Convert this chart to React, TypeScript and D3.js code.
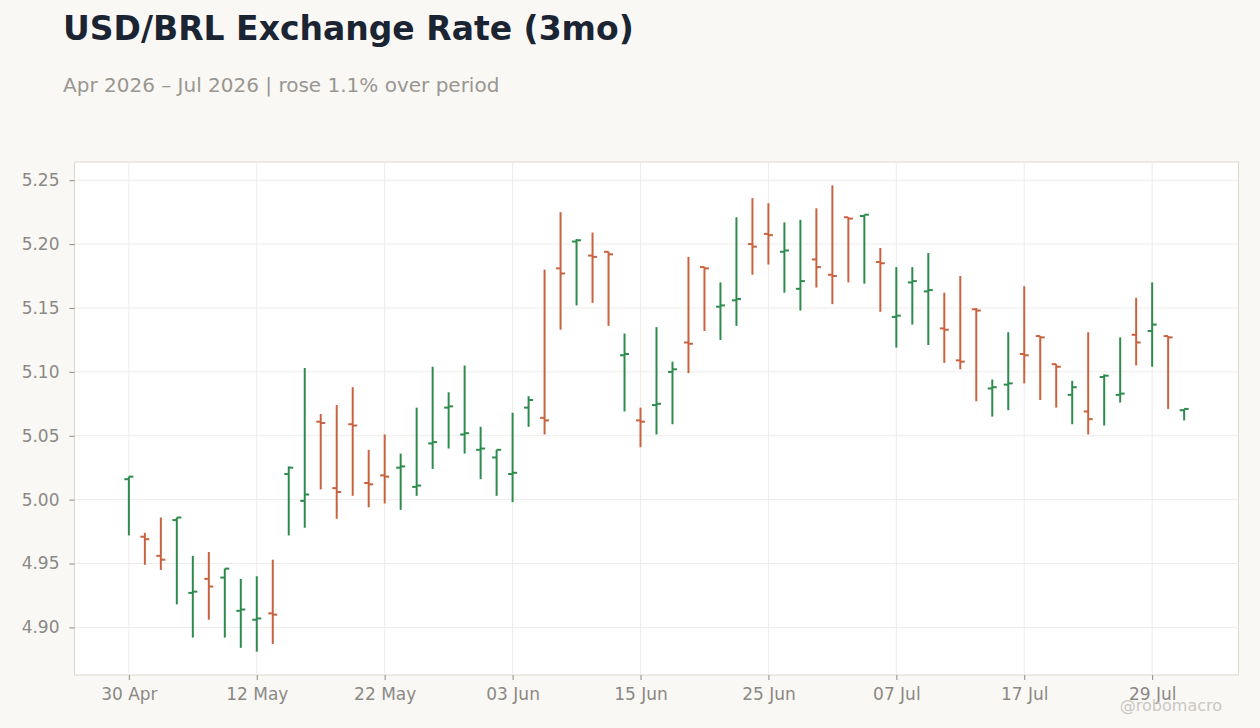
import * as d3 from "d3";
import { useEffect, useRef } from "react";

const dates = [
  "2026-04-30", "2026-05-01", "2026-05-04", "2026-05-05", "2026-05-06", "2026-05-07", "2026-05-08",
  "2026-05-11", "2026-05-12", "2026-05-13", "2026-05-14", "2026-05-15", "2026-05-18", "2026-05-19",
  "2026-05-20", "2026-05-21", "2026-05-22", "2026-05-25", "2026-05-26", "2026-05-27", "2026-05-28",
  "2026-05-29", "2026-06-01", "2026-06-02", "2026-06-03", "2026-06-04", "2026-06-05", "2026-06-08",
  "2026-06-09", "2026-06-10", "2026-06-11", "2026-06-12", "2026-06-15", "2026-06-16", "2026-06-17",
  "2026-06-18", "2026-06-19", "2026-06-22", "2026-06-23", "2026-06-24", "2026-06-25", "2026-06-26",
  "2026-06-29", "2026-06-30", "2026-07-01", "2026-07-02", "2026-07-03", "2026-07-06", "2026-07-07",
  "2026-07-08", "2026-07-09", "2026-07-10", "2026-07-13", "2026-07-14", "2026-07-15", "2026-07-16",
  "2026-07-17", "2026-07-20", "2026-07-21", "2026-07-22", "2026-07-23", "2026-07-24", "2026-07-27",
  "2026-07-28", "2026-07-29", "2026-07-30", "2026-07-31",
];

const open = [
  5.016, 4.971, 4.956, 4.984, 4.927, 4.938, 4.939, 4.913, 4.906, 4.911,
  5.020, 4.999, 5.061, 5.009, 5.059, 5.013, 5.019, 5.025, 5.010, 5.044,
  5.072, 5.051, 5.039, 5.033, 5.020, 5.072, 5.064, 5.181, 5.202, 5.191,
  5.194, 5.113, 5.062, 5.074, 5.100, 5.123, 5.182, 5.151, 5.156, 5.200,
  5.208, 5.194, 5.165, 5.188, 5.176, 5.221, 5.222, 5.186, 5.143, 5.170,
  5.163, 5.134, 5.109, 5.149, 5.087, 5.090, 5.114, 5.128, 5.106, 5.082,
  5.069, 5.096, 5.082, 5.129, 5.132, 5.128, 5.070,
];
const high = [
  5.018, 4.974, 4.986, 4.986, 4.956, 4.959, 4.946, 4.938, 4.940, 4.953,
  5.026, 5.103, 5.067, 5.074, 5.088, 5.039, 5.051, 5.036, 5.072, 5.104,
  5.084, 5.105, 5.057, 5.039, 5.068, 5.081, 5.180, 5.225, 5.204, 5.209,
  5.194, 5.130, 5.072, 5.135, 5.108, 5.190, 5.182, 5.170, 5.221, 5.236,
  5.232, 5.217, 5.219, 5.228, 5.246, 5.221, 5.223, 5.197, 5.182, 5.182,
  5.193, 5.162, 5.175, 5.150, 5.094, 5.131, 5.167, 5.128, 5.106, 5.093,
  5.131, 5.098, 5.127, 5.158, 5.170, 5.128, 5.071,
];
const low = [
  4.972, 4.949, 4.945, 4.918, 4.892, 4.906, 4.892, 4.884, 4.881, 4.887,
  4.972, 4.978, 5.008, 4.985, 5.003, 4.994, 4.997, 4.992, 5.003, 5.024,
  5.040, 5.036, 5.016, 5.003, 4.998, 5.057, 5.051, 5.133, 5.152, 5.154,
  5.136, 5.069, 5.041, 5.051, 5.059, 5.099, 5.132, 5.125, 5.136, 5.176,
  5.184, 5.162, 5.148, 5.166, 5.153, 5.170, 5.169, 5.147, 5.119, 5.137,
  5.121, 5.107, 5.102, 5.077, 5.065, 5.070, 5.091, 5.078, 5.072, 5.059,
  5.051, 5.058, 5.076, 5.105, 5.104, 5.071, 5.062,
];
const close = [
  5.018, 4.969, 4.953, 4.986, 4.928, 4.932, 4.946, 4.914, 4.907, 4.910,
  5.025, 5.004, 5.060, 5.006, 5.058, 5.012, 5.018, 5.026, 5.011, 5.045,
  5.073, 5.052, 5.040, 5.039, 5.021, 5.078, 5.062, 5.177, 5.203, 5.190,
  5.192, 5.114, 5.061, 5.075, 5.102, 5.122, 5.181, 5.152, 5.157, 5.198,
  5.207, 5.195, 5.171, 5.182, 5.175, 5.220, 5.223, 5.185, 5.144, 5.171,
  5.164, 5.133, 5.108, 5.148, 5.088, 5.091, 5.113, 5.127, 5.104, 5.088,
  5.063, 5.097, 5.083, 5.123, 5.137, 5.127, 5.071,
];

const yTicks = [4.9, 4.95, 5.0, 5.05, 5.1, 5.15, 5.2, 5.25];
const tickEvery = 8;

const UP = "#2e8b4e";
const DOWN = "#c8623f";
const FONT = "'DejaVu Sans', sans-serif";

export default function App() {
  const ref = useRef<SVGSVGElement>(null);

  useEffect(() => {
    if (!ref.current) return;
    const svg = d3.select(ref.current);
    svg.selectAll("*").remove();

    const width = 1260;
    const height = 728;
    const margin = { top: 162, right: 21.5, bottom: 53, left: 74.5 };
    const innerW = width - margin.left - margin.right;
    const innerH = height - margin.top - margin.bottom;

    const parse = d3.timeParse("%Y-%m-%d");
    const fmt = d3.timeFormat("%d %b");
    const bars = dates.map((d, i) => ({
      i,
      date: parse(d)!,
      o: open[i],
      h: high[i],
      l: low[i],
      c: close[i],
    }));

    svg.append("rect").attr("width", width).attr("height", height).attr("fill", "#f9f8f5");

    svg
      .append("text")
      .attr("x", 63)
      .attr("y", 40)
      .attr("font-family", FONT)
      .attr("font-weight", "bold")
      .attr("font-size", 33)
      .attr("fill", "#1b2433")
      .text("USD/BRL Exchange Rate (3mo)");

    svg
      .append("text")
      .attr("x", 63)
      .attr("y", 92)
      .attr("font-family", FONT)
      .attr("font-size", 20)
      .attr("fill", "#9a9691")
      .text("Apr 2026 – Jul 2026 | rose 1.1% over period");

    const pad = 3.4;
    const x = d3
      .scaleLinear()
      .domain([-pad, bars.length - 1 + pad])
      .range([0, innerW]);

    const lo = d3.min(low)!;
    const hi = d3.max(high)!;
    const yPad = (hi - lo) * 0.05;
    const y = d3
      .scaleLinear()
      .domain([lo - yPad, hi + yPad])
      .range([innerH, 0]);

    const g = svg.append("g").attr("transform", `translate(${margin.left},${margin.top})`);

    g.append("rect")
      .attr("width", innerW)
      .attr("height", innerH)
      .attr("fill", "#ffffff")
      .attr("stroke", "#ddd7ce")
      .attr("stroke-width", 1);

    const xTickIdx = bars.filter((b) => b.i % tickEvery === 0).map((b) => b.i);

    // grid
    g.append("g")
      .selectAll("line")
      .data(yTicks)
      .join("line")
      .attr("x1", 0)
      .attr("x2", innerW)
      .attr("y1", (d) => y(d))
      .attr("y2", (d) => y(d))
      .attr("stroke", "#eeecea")
      .attr("stroke-width", 1);

    g.append("g")
      .selectAll("line")
      .data(xTickIdx)
      .join("line")
      .attr("x1", (d) => x(d))
      .attr("x2", (d) => x(d))
      .attr("y1", 0)
      .attr("y2", innerH)
      .attr("stroke", "#eeecea")
      .attr("stroke-width", 1);

    const yAxis = g
      .append("g")
      .call(
        d3
          .axisLeft(y)
          .tickValues(yTicks)
          .tickFormat(d3.format(".2f"))
          .tickSize(5)
          .tickPadding(10)
      );
    yAxis.select(".domain").remove();
    yAxis.selectAll("line").attr("stroke", "#8c8884");
    yAxis
      .selectAll("text")
      .attr("font-family", FONT)
      .attr("font-size", 17)
      .attr("fill", "#8c8884");

    const xAxis = g
      .append("g")
      .attr("transform", `translate(0,${innerH})`)
      .call(
        d3
          .axisBottom(x)
          .tickValues(xTickIdx)
          .tickFormat((d) => fmt(bars[d as number].date))
          .tickSize(5)
          .tickPadding(8)
      );
    xAxis.select(".domain").remove();
    xAxis.selectAll("line").attr("stroke", "#8c8884");
    xAxis
      .selectAll("text")
      .attr("font-family", FONT)
      .attr("font-size", 17)
      .attr("fill", "#8c8884");

    // OHLC bars
    const ohlc = g
      .append("g")
      .selectAll("g")
      .data(bars)
      .join("g")
      .attr("stroke", (d) => (d.c >= d.o ? UP : DOWN))
      .attr("stroke-width", 2);

    ohlc
      .append("line")
      .attr("x1", (d) => x(d.i))
      .attr("x2", (d) => x(d.i))
      .attr("y1", (d) => y(d.h))
      .attr("y2", (d) => y(d.l));

    ohlc
      .append("line")
      .attr("x1", (d) => x(d.i) - 4.5)
      .attr("x2", (d) => x(d.i))
      .attr("y1", (d) => y(d.o))
      .attr("y2", (d) => y(d.o));

    ohlc
      .append("line")
      .attr("x1", (d) => x(d.i))
      .attr("x2", (d) => x(d.i) + 4.5)
      .attr("y1", (d) => y(d.c))
      .attr("y2", (d) => y(d.c));

    svg
      .append("text")
      .attr("x", 1222)
      .attr("y", 711)
      .attr("text-anchor", "end")
      .attr("font-family", FONT)
      .attr("font-size", 16)
      .attr("fill", "#cbc7c2")
      .text("@robomacro");
  }, []);

  return (
    <svg
      ref={ref}
      width={1260}
      height={728}
      style={{ position: "absolute", left: 0, top: 0, display: "block" }}
    />
  );
}
